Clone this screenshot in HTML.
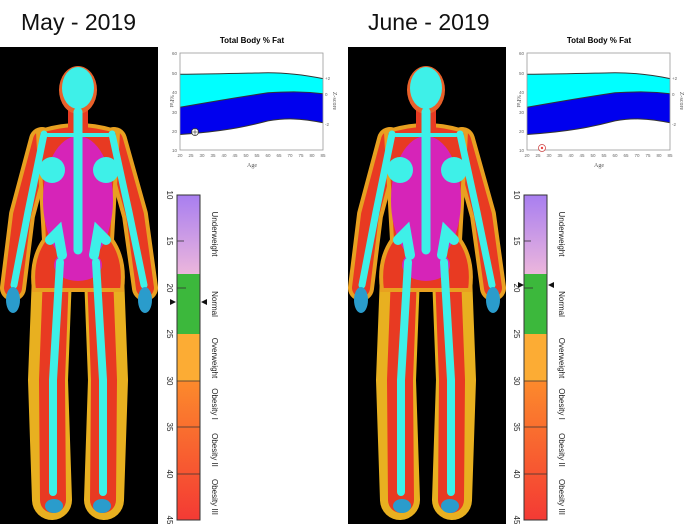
<!DOCTYPE html>
<html><head><meta charset="utf-8"><style>
html,body{margin:0;padding:0;background:#fff;}
svg{display:block;font-family:"Liberation Sans",sans-serif;}
</style></head><body>
<svg width="700" height="524" viewBox="0 0 700 524" xmlns="http://www.w3.org/2000/svg">
<defs>
<linearGradient id="uw" x1="0" y1="0" x2="0" y2="1"><stop offset="0" stop-color="#a87ef0"/><stop offset="1" stop-color="#ecb6dc"/></linearGradient>
<linearGradient id="ob" x1="0" y1="0" x2="0" y2="1"><stop offset="0" stop-color="#fc8a2c"/><stop offset="1" stop-color="#f43a34"/></linearGradient>
<g id="body">
<rect x="0" y="47" width="158" height="477" fill="#000"/>
<g fill="none" stroke-linecap="round" stroke-linejoin="round">
<polyline points="42,140 22,215 13,288" stroke="#e8a020" stroke-width="26"/>
<polyline points="114,140 135,215 145,288" stroke="#e8a020" stroke-width="26"/>
<polyline points="42,140 22,215 13,288" stroke="#e83a22" stroke-width="18"/>
<polyline points="114,140 135,215 145,288" stroke="#e83a22" stroke-width="18"/>
<polyline points="52,275 48,380 52,500" stroke="#e8b020" stroke-width="40"/>
<polyline points="104,275 108,380 104,500" stroke="#e8b020" stroke-width="40"/>
<polyline points="56,275 52,380 53,500" stroke="#e83a22" stroke-width="26"/>
<polyline points="100,275 104,380 103,500" stroke="#e83a22" stroke-width="26"/>
</g>
<path d="M38,132 Q78,118 118,132 L112,240 Q126,260 122,290 L34,290 Q30,260 44,240 Z" fill="#e83a22" stroke="#e8a020" stroke-width="4"/>
<rect x="68" y="105" width="20" height="25" fill="#e83a22"/>
<ellipse cx="78" cy="90" rx="19" ry="24" fill="#e8602a"/>
<ellipse cx="78" cy="200" rx="35" ry="64" fill="#d624b8"/>
<ellipse cx="78" cy="265" rx="24" ry="16" fill="#d624b8"/>
<g fill="none" stroke="#3ef0e8" stroke-linecap="round">
<line x1="78" y1="112" x2="78" y2="250" stroke-width="9"/>
<polyline points="44,134 28,212 14,285" stroke-width="7"/>
<polyline points="112,134 129,212 144,285" stroke-width="7"/>
<polyline points="60,262 53,380 53,492" stroke-width="8"/>
<polyline points="96,262 103,380 103,492" stroke-width="8"/>
<polyline points="62,255 58,232 50,240" stroke-width="10"/>
<polyline points="94,255 98,232 106,240" stroke-width="10"/>
<line x1="48" y1="135" x2="108" y2="135" stroke-width="4"/>
</g>
<ellipse cx="78" cy="88" rx="16" ry="21" fill="#3ef0e8"/>
<circle cx="52" cy="170" r="13" fill="#3ef0e8"/>
<circle cx="106" cy="170" r="13" fill="#3ef0e8"/>
<ellipse cx="13" cy="300" rx="7" ry="13" fill="#2a9ccc"/>
<ellipse cx="145" cy="300" rx="7" ry="13" fill="#2a9ccc"/>
<ellipse cx="54" cy="506" rx="9" ry="7" fill="#2a9ccc"/>
<ellipse cx="102" cy="506" rx="9" ry="7" fill="#2a9ccc"/>
</g>
<g id="chart">
<text x="252" y="43" font-size="8" font-weight="bold" text-anchor="middle">Total Body % Fat</text>
<path d="M180,74.3 C220,74 250,73 268,72.7 C290,72.7 310,76 323,78.6 L323,93.7 C305,91.5 290,91.5 268,92.8 C240,97 210,102 180,107.3 Z" fill="#00ffff"/>
<path d="M180,107.3 C210,102 240,97 268,92.8 C290,91.5 305,91.5 323,93.7 L323,122.8 C300,118 285,118 268,120.9 C245,127 220,132 180,134.5 Z" fill="#0000ee"/>
<g fill="none" stroke="#333" stroke-width="1">
<path d="M180,74.3 C220,74 250,73 268,72.7 C290,72.7 310,76 323,78.6"/>
<path d="M180,107.3 C210,102 240,97 268,92.8 C290,91.5 305,91.5 323,93.7"/>
<path d="M180,134.5 C220,132 245,127 268,120.9 C285,118 300,118 323,122.8"/>
</g>
<rect x="180" y="53" width="143" height="97" fill="none" stroke="#999" stroke-width="0.8"/>
<g font-size="4.5" fill="#666" text-anchor="end">
<text x="177" y="55">60</text><text x="177" y="75">50</text><text x="177" y="94">40</text><text x="177" y="114">30</text><text x="177" y="133">20</text><text x="177" y="152">10</text>
</g>
<g font-size="4.5" fill="#666" text-anchor="middle">
<text x="180" y="157">20</text><text x="191" y="157">25</text><text x="202" y="157">30</text><text x="213" y="157">35</text><text x="224" y="157">40</text><text x="235" y="157">45</text><text x="246" y="157">50</text><text x="257" y="157">55</text><text x="268" y="157">60</text><text x="279" y="157">65</text><text x="290" y="157">70</text><text x="301" y="157">75</text><text x="312" y="157">80</text><text x="323" y="157">85</text>
</g>
<g font-size="4.5" fill="#666"><text x="325" y="80">+2</text><text x="325" y="96">0</text><text x="325" y="126">-2</text></g>
<text x="252" y="167" font-size="6" fill="#555" text-anchor="middle" font-family="Liberation Serif,serif">Age</text>
<text transform="translate(170,101) rotate(90)" font-size="6" fill="#555" text-anchor="middle" font-family="Liberation Serif,serif">%Fat</text>
<text transform="translate(333,101) rotate(90)" font-size="6" fill="#555" text-anchor="middle" font-family="Liberation Serif,serif">Z-score</text>
<rect x="177" y="195" width="23" height="79" fill="url(#uw)"/>
<rect x="177" y="274" width="23" height="60" fill="#3cb83c"/>
<rect x="177" y="334" width="23" height="47" fill="#fcac34"/>
<rect x="177" y="381" width="23" height="139" fill="url(#ob)"/>
<rect x="177" y="195" width="23" height="325" fill="none" stroke="#333" stroke-width="1"/>
<g stroke="#333" stroke-width="0.8">
<line x1="177" y1="241" x2="184" y2="241"/><line x1="177" y1="288" x2="186" y2="288"/>
<line x1="177" y1="381" x2="200" y2="381"/><line x1="177" y1="427" x2="200" y2="427"/><line x1="177" y1="474" x2="200" y2="474"/>
</g>
<g font-size="8" fill="#222" text-anchor="middle">
<text transform="translate(167,195) rotate(90)">10</text>
<text transform="translate(167,241) rotate(90)">15</text>
<text transform="translate(167,288) rotate(90)">20</text>
<text transform="translate(167,334) rotate(90)">25</text>
<text transform="translate(167,381) rotate(90)">30</text>
<text transform="translate(167,427) rotate(90)">35</text>
<text transform="translate(167,474) rotate(90)">40</text>
<text transform="translate(167,520) rotate(90)">45</text>
</g>
<g font-size="8" fill="#222" text-anchor="middle">
<text transform="translate(212,234) rotate(90)">Underweight</text>
<text transform="translate(212,304) rotate(90)">Normal</text>
<text transform="translate(212,358) rotate(90)">Overweight</text>
<text transform="translate(212,404) rotate(90)">Obesity I</text>
<text transform="translate(212,450) rotate(90)">Obesity II</text>
<text transform="translate(212,497) rotate(90)">Obesity III</text>
</g>
</g>
</defs>
<text x="21" y="30" font-size="23" fill="#111">May - 2019</text>
<text x="368" y="30" font-size="23" fill="#111">June - 2019</text>
<use href="#body"/>
<use href="#body" transform="translate(348,0)"/>
<use href="#chart"/>
<use href="#chart" transform="translate(347,0)"/>
<circle cx="195" cy="132" r="3.5" fill="#fff" stroke="#333" stroke-width="0.8"/>
<line x1="195" y1="129" x2="195" y2="135" stroke="#333" stroke-width="0.6"/><line x1="192" y1="132" x2="198" y2="132" stroke="#333" stroke-width="0.6"/>
<circle cx="542" cy="148" r="3.5" fill="#fff" stroke="#c44" stroke-width="0.8"/>
<circle cx="542" cy="148" r="1.2" fill="#e44"/>
<path d="M170,299 L176,302 L170,305 Z" fill="#111"/>
<path d="M201,302 L207,299 L207,305 Z" fill="#111"/>
<path d="M518,282 L524,285 L518,288 Z" fill="#111"/>
<path d="M548,285 L554,282 L554,288 Z" fill="#111"/>
</svg>
</body></html>
